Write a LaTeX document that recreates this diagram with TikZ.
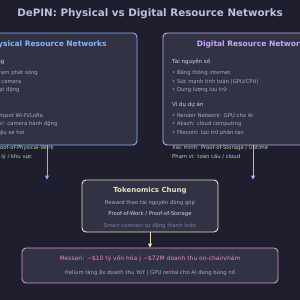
\documentclass[tikz,border=0pt]{standalone}
\usepackage{fontspec}
\setmainfont{DejaVu Sans}
\usetikzlibrary{arrows.meta}
\definecolor{bgdark}{RGB}{30, 30, 46}
\definecolor{panelfill}{RGB}{49, 50, 68}
\definecolor{physblue}{RGB}{137, 180, 250}
\definecolor{digimauve}{RGB}{203, 166, 247}
\definecolor{tokcream}{RGB}{236, 224, 190}
\definecolor{msgpink}{RGB}{222, 150, 190}
\definecolor{msgtext}{RGB}{238, 140, 175}
\definecolor{textmain}{RGB}{205, 214, 244}
\definecolor{titlegray}{RGB}{186, 194, 222}
\definecolor{textsub}{RGB}{166, 173, 200}
\definecolor{textdim}{RGB}{127, 132, 156}
\definecolor{verigreen}{RGB}{180, 215, 170}

\begin{document}
\begin{tikzpicture}[x=1pt, y=-1pt,
    panel/.style={rectangle, rounded corners=4pt, line width=0.9pt,
                  fill=panelfill, minimum width=180pt,
                  minimum height=112pt},
    boxtitle/.style={font=\fontsize{7.5}{8}\selectfont\bfseries},
    subhead/.style={anchor=west, inner sep=0pt, text=textmain,
                    font=\fontsize{5.5}{6}\selectfont},
    item/.style={anchor=west, inner sep=0pt, text=textsub,
                 font=\fontsize{5.3}{6}\selectfont},
    verify/.style={anchor=west, inner sep=0pt, text=verigreen,
                   font=\fontsize{5.3}{6}\selectfont},
    line/.style={inner sep=0pt, font=\fontsize{5.3}{6}\selectfont},
    arr/.style={-{Triangle[width=4pt, length=4pt]}, line width=0.9pt}]

    \useasboundingbox (0,0) rectangle (300,300);
    \clip (0,0) rectangle (300,300);
    \fill[bgdark] (0,0) rectangle (300,300);

    % Title
    \node[text=titlegray, font=\fontsize{10.3}{11}\selectfont\bfseries]
        (title) at (150,14) {DePIN: Physical vs Digital Resource Networks};

    % Physical panel
    \node[panel, draw=physblue] (phys) at (47,89) {};
    \node[boxtitle, text=physblue] (physT) at (47,44)
        {Physical Resource Networks};
    \node[subhead] (p0) at (-34,62) {Cơ sở hạ tầng};
    \node[item] (p1) at (-34,73) {• Hotspot / trạm phát sóng};
    \node[item] (p2) at (-34,82) {• Cảm biến / camera};
    \node[item] (p3) at (-34,90) {• Thiết bị hoạt động};
    \node[subhead] (p4) at (-34,105) {Ví dụ dự án};
    \node[item] (p5) at (-34,116) {• Helium: hotspot Wi-Fi/LoRa};
    \node[item] (p6) at (-34,124) {• Hivemapper: camera hành động};
    \node[item] (p7) at (-34,133) {• DIMO: dữ liệu xe hơi};
    \node[verify] (p8) at (-34,148) {Xác minh: Proof-of-Physical-Work};
    \node[verify] (p9) at (-34,157) {Phạm vi: địa lý / khu vực};

    % Digital panel
    \node[panel, draw=digimauve] (digi) at (253,89) {};
    \node[boxtitle, text=digimauve] (digiT) at (253,44)
        {Digital Resource Networks};
    \node[subhead] (d0) at (172,62) {Tài nguyên số};
    \node[item] (d1) at (172,73) {• Băng thông internet};
    \node[item] (d2) at (172,82) {• Sức mạnh tính toán (GPU/CPU)};
    \node[item] (d3) at (172,90) {• Dung lượng lưu trữ};
    \node[subhead] (d4) at (172,105) {Ví dụ dự án};
    \node[item] (d5) at (172,116) {• Render Network: GPU cho AI};
    \node[item] (d6) at (172,124) {• Akash: cloud computing};
    \node[item] (d7) at (172,133) {• Filecoin: lưu trữ phân tán};
    \node[verify] (d8) at (172,148) {Xác minh: Proof-of-Storage / Uptime};
    \node[verify] (d9) at (172,157) {Phạm vi: toàn cầu / cloud};

    % Tokenomics
    \node[rectangle, rounded corners=4pt, line width=0.9pt, draw=tokcream,
          fill=panelfill, minimum width=136pt, minimum height=52pt]
        (token) at (150,206) {};
    \node[text=tokcream, font=\fontsize{7}{8}\selectfont\bfseries]
        (tokenT) at (150,191) {Tokenomics Chung};
    \node[line, text=textsub] (t1) at (150,203)
        {Reward theo tài nguyên đóng góp};
    \node[line, text=textmain] (t2) at (150,214)
        {Proof-of-Work / Proof-of-Storage};
    \node[line, text=textdim] (t3) at (150,226)
        {Smart contract tự động thanh toán};

    % Messari
    \node[rectangle, rounded corners=4pt, line width=0.9pt, draw=msgpink,
          fill=panelfill, minimum width=256pt, minimum height=35pt]
        (msg) at (150,265.5) {};
    \node[line, text=msgtext, font=\fontsize{6}{7}\selectfont] (m1)
        at (150,259) {Messari: \textasciitilde\$10 tỷ vốn hóa |
        \textasciitilde\$72M doanh thu on-chain/năm};
    \node[line, text=textsub] (m2) at (150,273)
        {Helium tăng 8x doanh thu YoY | GPU rental cho AI đang bùng nổ};

    % Arrows
    \draw[arr, physblue] (phys.south) -- (phys.south |- token.north);
    \draw[arr, digimauve] (digi.south) -- (digi.south |- token.north);
    \draw[arr, tokcream] (token.south) -- (msg.north);
\end{tikzpicture}
\end{document}
